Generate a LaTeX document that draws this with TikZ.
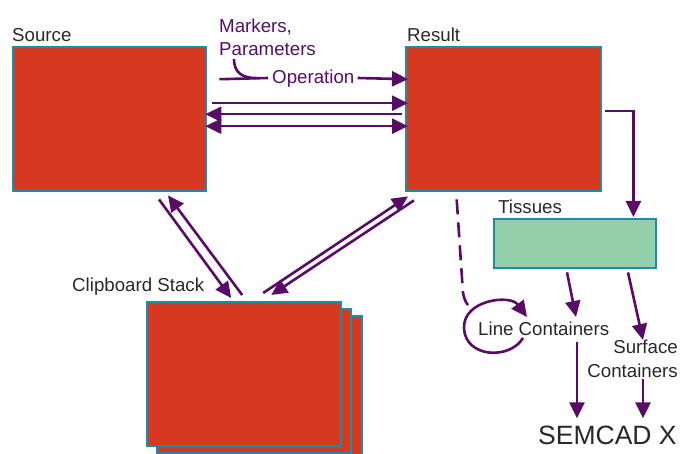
\documentclass[tikz,border=0pt]{standalone}
\usepackage{fontspec}
\setmainfont{Liberation Sans}
\usetikzlibrary{arrows.meta,calc}

\definecolor{boxred}{RGB}{214,57,31}
\definecolor{boxedge}{RGB}{28,140,168}
\definecolor{tissuegreen}{RGB}{146,207,170}
\definecolor{flow}{RGB}{88,12,104}
\definecolor{labelgray}{RGB}{40,40,40}

\tikzset{
  sheet/.style={draw=boxedge, line width=2.4pt, fill=boxred, inner sep=0pt,
    minimum width=193pt, minimum height=144pt, anchor=north west},
  tissuebox/.style={draw=boxedge, line width=2.4pt, fill=tissuegreen, inner sep=0pt,
    minimum width=162pt, minimum height=49pt, anchor=north west},
  lbl/.style={text=labelgray, inner sep=0pt, font=\fontsize{18.7}{23}\selectfont},
  flowlbl/.style={text=flow, inner sep=0pt, font=\fontsize{18.7}{23}\selectfont},
  conn/.style={draw=flow, line width=2.6pt},
  tip/.style={conn, -{Triangle[length=16pt,width=15pt]}},
  bothtips/.style={conn, {Triangle[length=16pt,width=15pt]}-{Triangle[length=16pt,width=15pt]}},
  tipback/.style={conn, {Triangle[length=16pt,width=15pt]}-},
}

\begin{document}
\begin{tikzpicture}[x=1pt,y=-1pt]
\useasboundingbox (0,0) rectangle (681,454);

% main boxes
\node[sheet] (src) at (12,46) {};
\node[sheet, minimum width=195pt] (res) at (405,46) {};
\node[tissuebox] (tis) at (493,218) {};

% clipboard stack, back to front
\node[sheet, minimum width=194pt] (clip3) at (167,315) {};
\node[sheet, minimum width=194pt] (clip2) at (156,308) {};
\node[sheet, minimum width=194pt] (clip) at (146,301) {};

% labels
\node[lbl, anchor=base west] (srclbl) at (12,42) {Source};
\node[lbl, anchor=base west] (reslbl) at (407,42) {Result};
\node[lbl, anchor=base west] (tislbl) at (498,214) {Tissues};
\node[lbl, anchor=base west] (cliplbl) at (72,292) {Clipboard Stack};
\node[lbl, anchor=base west] (linec) at (478,336) {Line Containers};
\node[lbl, anchor=north east, align=right, font=\fontsize{18.7}{24}\selectfont]
  (surfc) at (678,339.5) {Surface\\Containers};
\node[lbl, anchor=base west, font=\fontsize{26.5}{30}\selectfont] (semcad) at (538,445) {SEMCAD X};

\node[flowlbl, anchor=north west, align=left] (markers) at (219,19) {Markers,\\Parameters};
\node[flowlbl, anchor=base west] (op) at (272,84) {Operation};

% operation with its inputs
\draw[conn] ($(src.east)+(12,-40)$) -- ($(op.west |- 0,78)+(-4,0)$);
\draw[conn] (234,59) .. controls (234,74) and (244,78) .. (256,78);
\draw[tip] ($(op.east |- 0,78)+(3,0)$) -- ($(res.west)+(3,-40)$);

% source <-> result
\draw[tip] ($(src.east)+(5,-16)$) -- ($(res.west)+(3,-16)$);
\draw[tipback] ($(src.east)+(-2,-5)$) -- ($(res.west)+(-3,-5)$);
\draw[bothtips] ($(src.east)+(-2,7)$) -- ($(res.west)+(3,7)$);

% source <-> clipboard
\draw[tip] ($(src.south west)+(147,7)$) -- ($(clip.north)+(-13,-3)$);
\draw[tipback] ($(src.south west)+(156,3)$) -- ($(clip.north)+(-2,-6)$);

% result <-> clipboard
\draw[tip] ($(clip.north)+(19,-8)$) -- ($(res.south west)+(3,4)$);
\draw[tipback] ($(clip.north)+(27,-6)$) -- ($(res.south west)+(9,8)$);

% result -> tissues
\draw[tip] ($(res.east)+(3,-8)$) -| ($(tis.north east)+(-24,-1)$);

% tissues -> containers
\draw[tip] ($(tis.south west)+(74,3)$) -- (576,317);
\draw[tip] ($(tis.south west)+(135,3)$) -- (643,340);

% containers -> SEMCAD X
\draw[tip] (577,342) -- ($(semcad.north west)+(39,-8)$);
\draw[tip] (643,379) -- ($(semcad.north west)+(105,-8)$);

% line containers: dashed feed from result and self loop
\draw[conn, dash pattern=on 15pt off 8pt] ($(res.south)+(-47,7)$) -- (463,293)
  .. controls (465,301) .. (470,308);
\draw[tip] (523,338) .. controls (510,360) and (465,358) .. (464,328)
  .. controls (463,300) and (510,294) .. (527,317);
\end{tikzpicture}
\end{document}
